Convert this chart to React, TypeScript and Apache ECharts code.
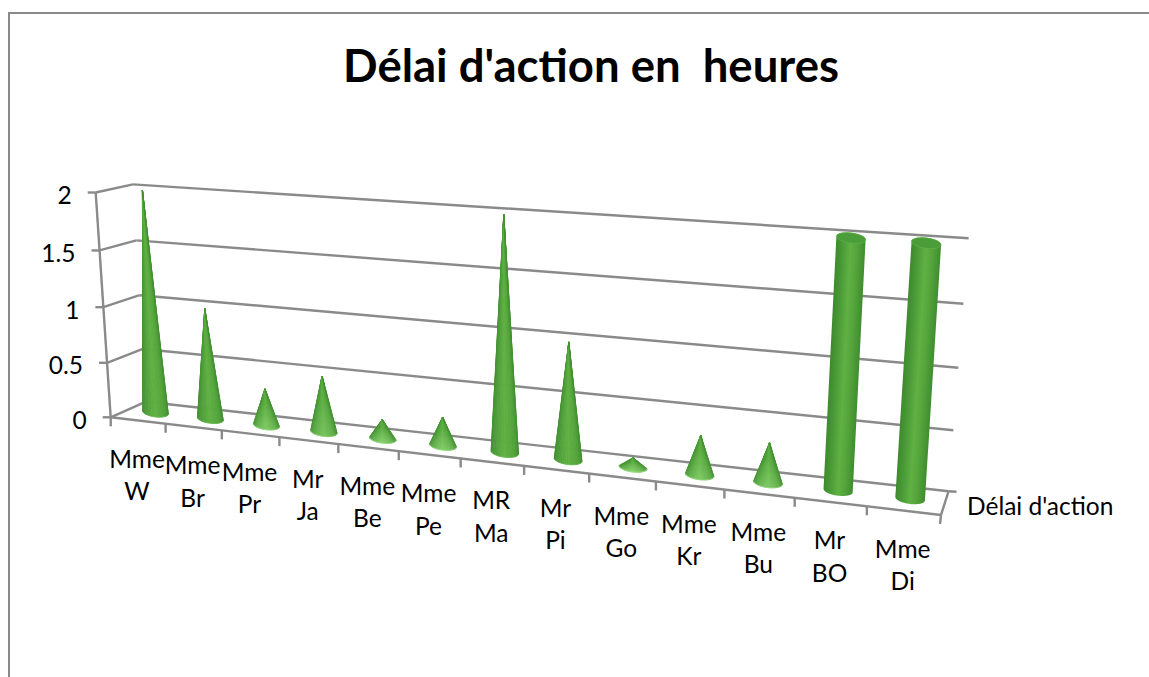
import React, { useEffect, useRef } from "react";
import * as echarts from "echarts";

const chartTitle = "Délai d'action en  heures";
const seriesName = "Délai d'action";
const categories = ["Mme\nW", "Mme\nBr", "Mme\nPr", "Mr\nJa", "Mme\nBe", "Mme\nPe", "MR\nMa", "Mr\nPi", "Mme\nGo", "Mme\nKr", "Mme\nBu", "Mr\nBO", "Mme\nDi"];
const values = [2, 1, 0.33, 0.5, 0.17, 0.25, 2, 1, 0.08, 0.33, 0.33, 2, 2];
const shapes = ["cone", "cone", "cone", "cone", "cone", "cone", "cone", "cone", "cone", "cone", "cone", "cylinder", "cylinder"];
const yTicks = [0, 0.5, 1, 1.5, 2];
const yMax = 2;

// Projective frame of the 3D box (unit cube -> screen)
const O = [110.7, 417.3];
const A = [941, 515];
const B = [95.7, 192.5];
const C = [146, 401.7];
const wa = 0.85;
const wb = 0.96;
const wc = 1.036;
const FONT = "Lato, Carlito, 'Noto Sans', sans-serif";
const AXIS = "#8a8a8a";
const LABEL_SIZE = 24.5;

function P(u: number, v: number, w: number): number[] {
  const W = 1 + u * (wa - 1) + v * (wb - 1) + w * (wc - 1);
  const f = (k: number) => O[k] + u * (wa * A[k] - O[k]) + v * (wb * B[k] - O[k]) + w * (wc * C[k] - O[k]);
  return [f(0) / W - 2.5 * u * v * w, f(1) / W - 1.5 * u * w - 1.5 * u * v * w];
}
function weight(u: number, v: number, w: number) {
  return 1 + u * (wa - 1) + v * (wb - 1) + w * (wc - 1);
}
function norm(params: any, pt: number[]) {
  const cs = params.coordSys;
  return [(pt[0] - cs.x) / cs.width, (cs.y + cs.height - pt[1]) / cs.height];
}
function line(a: number[], b: number[], width = 2.4, stroke = AXIS) {
  return { type: "line", shape: { x1: a[0], y1: a[1], x2: b[0], y2: b[1] }, style: { stroke, lineWidth: width } };
}
function hex(c: string) {
  return [1, 3, 5].map((i) => parseInt(c.slice(i, i + 2), 16));
}
function mix(c1: string, c2: string, t: number) {
  const a = hex(c1), b = hex(c2);
  return "rgb(" + a.map((x, i) => Math.round(x + (b[i] - x) * t)).join(",") + ")";
}
const RAMP: [number, string][] = [[0, "#3d8a2c"], [0.22, "#4a9a37"], [0.5, "#5fb143"], [0.72, "#54a43c"], [1, "#3f8d2f"]];
function shade(t: number) {
  for (let i = 1; i < RAMP.length; i++) {
    if (t <= RAMP[i][0]) {
      const [t0, c0] = RAMP[i - 1];
      const [t1, c1] = RAMP[i];
      return mix(c0, c1, (t - t0) / (t1 - t0));
    }
  }
  return mix(RAMP[RAMP.length - 1][1], RAMP[RAMP.length - 1][1], 0);
}
function lightened(rgb: string, t: number) {
  const m = rgb.match(/\d+/g)!.map(Number);
  const target = [165, 230, 140];
  return "rgb(" + m.map((x, i) => Math.round(x + (target[i] - x) * t)).join(",") + ")";
}

function renderFrame(params: any, api: any) {
  const v = norm(params, api.coord([0, api.value(1)]))[1];
  const f = P(0, v, 0);
  const bl = P(0, v, 1);
  const br = P(1, v, 1);
  const children: any[] = [
    line(f, bl),
    line(bl, br),
    line(f, [f[0] - 8, f[1]]),
    {
      type: "text",
      style: { text: String(api.value(1)), x: f[0] - 24, y: f[1] + 2, align: "right", verticalAlign: "middle", fill: "#000", fontSize: LABEL_SIZE, fontFamily: FONT },
    },
  ];
  return { type: "group", children };
}

function renderStatic() {
  const fl = P(0, 0, 0), fr = P(1, 0, 0), bl = P(1, 0, 1), ft = P(0, 1, 0);
  return {
    type: "group",
    children: [
      line(fl, ft),
      line(fl, fr),
      line(fr, bl),
      line(bl, [bl[0] + 8, bl[1] + 0.5]),
      { type: "text", style: { text: seriesName, x: 967, y: 505, align: "left", verticalAlign: "middle", fill: "#000", fontSize: LABEL_SIZE, fontFamily: FONT } },
    ],
  };
}

function renderTicks(params: any, api: any) {
  const i = api.value(0);
  const n = categories.length;
  const cen = norm(params, api.coord([i, 0]))[0];
  const u0 = i / n;
  const a = P(u0, 0, 0);
  const children: any[] = [line(a, [a[0], a[1] + 9])];
  if (i === n - 1) {
    const b = P(1, 0, 0);
    children.push(line(b, [b[0] - 1, b[1] + 9]));
  }
  const c = P(cen, 0, 0);
  children.push({
    type: "text",
    style: { text: categories[i], x: c[0] - 1, y: c[1] + 54, align: "center", verticalAlign: "middle", lineHeight: 32.5, fill: "#000", fontSize: LABEL_SIZE, fontFamily: FONT },
  });
  return { type: "group", children };
}

function renderBar(params: any, api: any) {
  const i = api.value(0);
  const p = norm(params, api.coord([i, api.value(1)]));
  const u = p[0], v = p[1];
  const base = P(u, 0, 0.5);
  const top = P(u, v, 0.5);
  base[0] += 2 * u * u;
  top[0] += 2 * u * u - 3.75 * u * v;
  const W = weight(u, 0, 0.5);
  const e = P(u + 0.01, 0, 0.5);
  const e0 = P(u, 0, 0.5);
  const el = Math.hypot(e[0] - e0[0], e[1] - e0[1]);
  const ex = (e[0] - e0[0]) / el, ey = (e[1] - e0[1]) / el;
  const rx = 13 / W, ry = 4.6 / W;
  const isCyl = shapes[i] === "cylinder";
  const at = (c: number[], th: number) => [c[0] + rx * Math.cos(th) * ex, c[1] + rx * Math.cos(th) * ey + ry * Math.sin(th)];
  const height = base[1] - top[1];
  const hl = isCyl ? 0 : Math.max(0, 1 - height / 110) * 0.75;
  const children: any[] = [];
  if (isCyl) {
    const outline: number[][] = [];
    for (let k = 0; k <= 30; k++) outline.push(at(base, Math.PI * (1 - k / 30)));
    for (let k = 0; k <= 30; k++) outline.push(at(top, -Math.PI * (k / 30)));
    const s = at(base, Math.PI), t = at(base, 0);
    const ax = top[0] - base[0], ay = top[1] - base[1];
    const al = Math.hypot(ax, ay);
    const nx = -ay / al, ny = ax / al;
    const d = (t[0] - s[0]) * nx + (t[1] - s[1]) * ny;
    const fill = new echarts.graphic.LinearGradient(s[0], s[1], s[0] + nx * d, s[1] + ny * d,
      RAMP.map(([offset, color]) => ({ offset, color })), true);
    children.push({ type: "polygon", shape: { points: outline }, style: { fill } });
    const cap: number[][] = [];
    for (let k = 0; k < 40; k++) cap.push(at(top, (k / 40) * Math.PI * 2));
    children.push({ type: "polygon", shape: { points: cap }, style: { fill: "#4a9d38", stroke: "#67b44c", lineWidth: 0.6 } });
  } else {
    const N = 22;
    for (let k = 0; k < N; k++) {
      const t0 = k / N, t1 = (k + 1) / N;
      const th0 = Math.PI * (1 - t0), th1 = Math.PI * (1 - t1);
      const b0 = at(base, th0), b1 = at(base, th1);
      const col = shade((t0 + t1) / 2);
      const centre = 1 - Math.abs((t0 + t1) / 2 - 0.5) * 2;
      const bottom = Math.max(b0[1], b1[1]);
      const hi = hl * Math.max(0.15, centre);
      const fill = new echarts.graphic.LinearGradient(0, top[1], 0, bottom, [
        { offset: 0, color: col },
        { offset: 0.35, color: col },
        { offset: 1, color: lightened(col, hi) },
      ], true);
      children.push({ type: "polygon", shape: { points: [top, b1, b0] }, style: { fill, stroke: fill, lineWidth: 0.8 } });
    }
    const rim: number[][] = [];
    for (let k = 0; k <= 24; k++) rim.push(at(base, Math.PI * (1 - k / 24)));
    children.push({ type: "polyline", shape: { points: rim }, style: { fill: "none", stroke: "rgba(160,225,140," + (0.2 + hl * 0.8) + ")", lineWidth: 1 } });
  }
  return { type: "group", children };
}

export default function App() {
  const ref = useRef<HTMLDivElement>(null);
  useEffect(() => {
    document.body.style.margin = "0";
    const chart = echarts.init(ref.current!, undefined, { renderer: "svg" });
    chart.setOption({
      animation: false,
      backgroundColor: "#fff",
      title: {
        text: chartTitle,
        left: 586,
        top: 36,
        textAlign: "center",
        textStyle: { fontFamily: FONT, fontWeight: "bold", fontSize: 45.5, color: "#000" },
      },
      graphic: [
        { type: "rect", shape: { x: 9, y: 13, width: 1300, height: 800 }, style: { fill: "none", stroke: AXIS, lineWidth: 2 }, silent: true },
      ],
      grid: { left: 0, right: 0, top: 0, bottom: 0 },
      xAxis: { type: "category", data: categories, show: false },
      yAxis: { type: "value", min: 0, max: yMax, interval: 0.5, show: false },
      series: [
        { type: "custom", name: "frame", z: 1, silent: true, encode: { x: 0, y: 1 }, data: yTicks.map((t) => [0, t]), renderItem: renderFrame },
        { type: "custom", name: "axes", z: 2, silent: true, encode: { x: 0, y: 1 }, data: [[0, 0]], renderItem: renderStatic },
        { type: "custom", name: "ticks", z: 2, silent: true, encode: { x: 0, y: 1 }, data: categories.map((_, i) => [i, 0]), renderItem: renderTicks },
        { type: "custom", name: seriesName, z: 3, silent: true, encode: { x: 0, y: 1 }, data: values.map((v, i) => [i, v]), renderItem: renderBar },
      ],
    });
    return () => chart.dispose();
  }, []);
  return <div ref={ref} style={{ width: 1149, height: 677 }} />;
}
